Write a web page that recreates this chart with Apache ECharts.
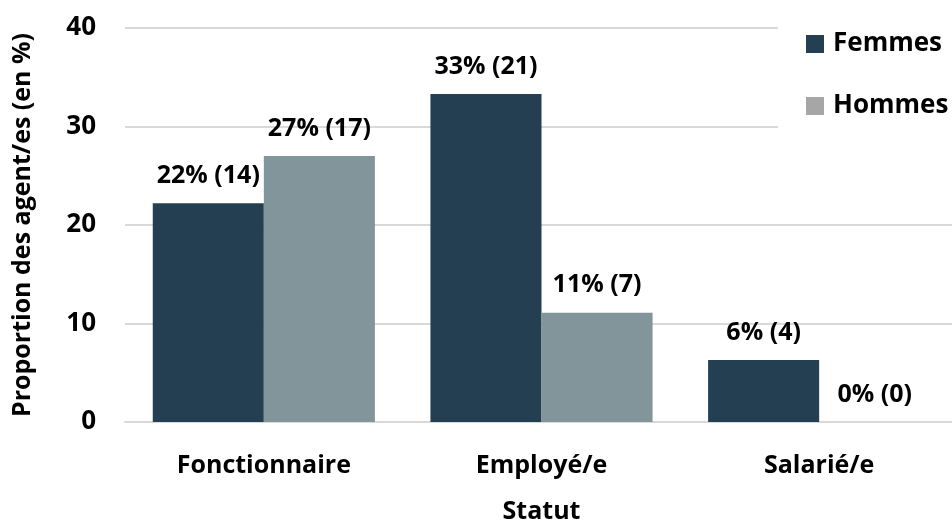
<!DOCTYPE html>
<html>
<head>
<meta charset="utf-8">
<script src="https://cdn.jsdelivr.net/npm/echarts@6/dist/echarts.min.js"></script>
<style>
html, body { margin: 0; padding: 0; background: #fff; }
#chart { width: 952px; height: 522px; }
</style>
</head>
<body>
<div id="chart"></div>
<script>
var categories = ['Fonctionnaire', 'Employé/e', 'Salarié/e'];
var femmesPct = [22.2, 33.3, 6.3];
var femmesCount = [14, 21, 4];
var hommesPct = [27.0, 11.1, 0];
var hommesCount = [17, 7, 0];
var yTicks = [0, 10, 20, 30, 40];

var font = '"Open Sans", "Noto Sans", sans-serif';

function labelFor(counts) {
	return function (p) {
		return Math.round(p.value) + '% (' + counts[p.dataIndex] + ')';
	};
}

var chart = echarts.init(document.getElementById('chart'));

var labelStyle = {
	show : true,
	position : 'top',
	distance : 15,
	color : '#000',
	fontFamily : font,
	fontWeight : 'bold',
	fontSize : 25
};

option = {
	backgroundColor : '#fff',
	animation : false,
	textStyle : { fontFamily : font },
	grid : {
		left : 125,
		right : -6,
		top : 28,
		bottom : 100,
		containLabel : false,
		outerBoundsMode : 'none'
	},
	legend : {
		orient : 'vertical',
		left : 778,
		top : 19,
		padding : [12, 20, 12, 28],
		backgroundColor : '#fff',
		itemWidth : 18,
		itemHeight : 18,
		itemGap : 36,
		icon : 'rect',
		textStyle : {
			fontFamily : font,
			fontWeight : 'bold',
			fontSize : 26,
			color : '#000',
			padding : [0, 0, 0, 4]
		},
		data : [
			{ name : 'Femmes', itemStyle : { color : '#253f52' } },
			{ name : 'Hommes', itemStyle : { color : '#a6a6a6' } }
		]
	},
	xAxis : {
		type : 'category',
		data : categories,
		name : 'Statut',
		nameLocation : 'middle',
		nameGap : 77,
		nameTextStyle : {
			fontFamily : font,
			fontWeight : 'bold',
			fontSize : 25,
			color : '#000'
		},
		axisLine : { lineStyle : { color : '#d9d9d9', width : 2 } },
		axisTick : { show : false },
		axisLabel : {
			margin : 31,
			fontFamily : font,
			fontWeight : 'bold',
			fontSize : 25,
			color : '#000'
		}
	},
	yAxis : {
		type : 'value',
		min : yTicks[0],
		max : yTicks[yTicks.length - 1],
		interval : 10,
		name : 'Proportion des agent/es (en %)',
		nameLocation : 'middle',
		nameGap : 90,
		nameTextStyle : {
			fontFamily : font,
			fontWeight : 'bold',
			fontSize : 25,
			color : '#000'
		},
		axisLine : { show : false },
		axisTick : { show : false },
		axisLabel : {
			margin : 29,
			fontFamily : font,
			fontWeight : 'bold',
			fontSize : 26,
			color : '#000'
		},
		splitLine : { lineStyle : { color : '#d9d9d9', width : 2 } }
	},
	series : [ {
		name : 'Femmes',
		type : 'bar',
		barGap : '0%',
		barCategoryGap : '20%',
		itemStyle : { color : '#253f52' },
		label : Object.assign({}, labelStyle, { formatter : labelFor(femmesCount) }),
		data : femmesPct
	}, {
		name : 'Hommes',
		type : 'bar',
		itemStyle : { color : '#82959a' },
		label : Object.assign({}, labelStyle, { formatter : labelFor(hommesCount) }),
		data : hommesPct
	} ]
};

chart.setOption(option);
</script>
</body>
</html>
